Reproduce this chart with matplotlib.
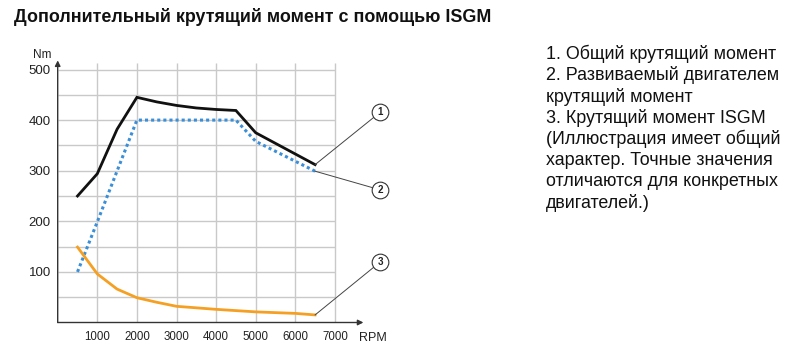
import matplotlib
matplotlib.use("Agg")
import matplotlib.pyplot as plt
import math

plt.rcParams['font.family'] = ['Liberation Sans', 'DejaVu Sans']

title = "Дополнительный крутящий момент с помощью ISGM"
legend_lines = ["1. Общий крутящий момент",
                "2. Развиваемый двигателем",
                "крутящий момент",
                "3. Крутящий момент ISGM",
                "(Иллюстрация имеет общий",
                "характер. Точные значения",
                "отличаются для конкретных",
                "двигателей.)"]

rpm_total = [500, 1000, 1500, 2000, 2500, 3000, 3500, 4000, 4500, 5000, 5500, 6000, 6500]
torque_total = [250, 294, 382, 445, 436, 429, 424, 421, 419, 375, 354, 333, 312]

rpm_engine = [500, 1000, 2000, 4500, 5000, 6500]
torque_engine = [100, 199, 400, 400, 358, 299]

rpm_isgm = [500, 1000, 1500, 2000, 2500, 3000, 4000, 5000, 6000, 6500]
torque_isgm = [149, 96, 66, 49, 40, 32, 26, 21, 18, 15]

xticks = [1000, 2000, 3000, 4000, 5000, 6000, 7000]
yticks = [100, 200, 300, 400, 500]
ygrid = [50, 100, 150, 200, 250, 300, 350, 400, 450, 500]

W, H = 801, 359
fig = plt.figure(figsize=(W / 100, H / 100), dpi=100)
x0px, pxk = 57.7, 39.6 / 1000.0
y0px, pyk = 322.5, 0.506
xmax, ymax = 7800, 520
ax = fig.add_axes([x0px / W, (H - y0px) / H, xmax * pxk / W, ymax * pyk / H])
ax.set_xlim(0, xmax)
ax.set_ylim(0, ymax)
for s in ax.spines.values():
    s.set_visible(False)

gridc = '#c9c9c9'
ax.vlines(xticks, 0, 513, color=gridc, lw=1.0, zorder=1)
ax.hlines(ygrid, 0, 7000, color=gridc, lw=1.0, zorder=1)

axc = '#333333'
ax.annotate("", xy=(7720, 0), xytext=(0, 0), annotation_clip=False,
            arrowprops=dict(arrowstyle='-|>', color=axc, lw=1.0, mutation_scale=8,
                            shrinkA=0, shrinkB=0))
ax.annotate("", xy=(0, 518), xytext=(0, 0), annotation_clip=False,
            arrowprops=dict(arrowstyle='-|>', color=axc, lw=1.0, mutation_scale=8,
                            shrinkA=0, shrinkB=0))

ax.set_xticks(xticks)
ax.set_xticklabels([str(v) for v in xticks])
ax.set_yticks(yticks)
ax.set_yticklabels([str(v) for v in yticks])
ax.tick_params(length=0, colors='#222222')
ax.tick_params(axis='x', pad=6, labelsize=8.3)
ax.tick_params(axis='y', pad=5, labelsize=9.5)

ax.text(-400, 528, "Nm", fontsize=8.5, ha='center', va='center', color='#222222')
ax.text(7600, -30, "RPM", fontsize=9, ha='left', va='center', color='#222222')

ax.plot(rpm_total, torque_total, color='#111111', lw=2.0, zorder=4, solid_joinstyle='miter')
ax.plot(rpm_engine, torque_engine, color='#3a8fd8', lw=2.2, zorder=3,
        linestyle=(0, (1, 1)), dash_capstyle='butt')
ax.plot(rpm_isgm, torque_isgm, color='#f5a023', lw=2.0, zorder=3)

circ_x = 8150
circles = [(1, 416, torque_total[-1]), (2, 262, torque_engine[-1]), (3, 120, torque_isgm[-1])]
for num, cy, ty in circles:
    dx_px = (circ_x - 6500) * pxk
    dy_px = (cy - ty) * pyk
    d = math.hypot(dx_px, dy_px)
    r = 8.0
    ex = circ_x - (dx_px / d * r) / pxk
    ey = cy - (dy_px / d * r) / pyk
    ax.plot([6500, ex], [ty, ey], color='#444444', lw=0.7, clip_on=False, zorder=5)
    ax.plot([circ_x], [cy], marker='o', ms=12, mfc='white', mec='#333333', mew=0.8,
            clip_on=False, zorder=6)
    ax.text(circ_x, cy, str(num), fontsize=7, fontweight='bold', ha='center',
            va='center', clip_on=False, zorder=7, color='#222222')

fig.text(14 / W, 1 - 17 / H, title, fontsize=12.9, fontweight='bold', ha='left',
         va='center', color='#111111')

ly = 54
for line in legend_lines:
    fig.text(546 / W, 1 - ly / H, line, fontsize=12.9, ha='left', va='center', color='#111111')
    ly += 21.3

fig.savefig("out.png", dpi=100)
